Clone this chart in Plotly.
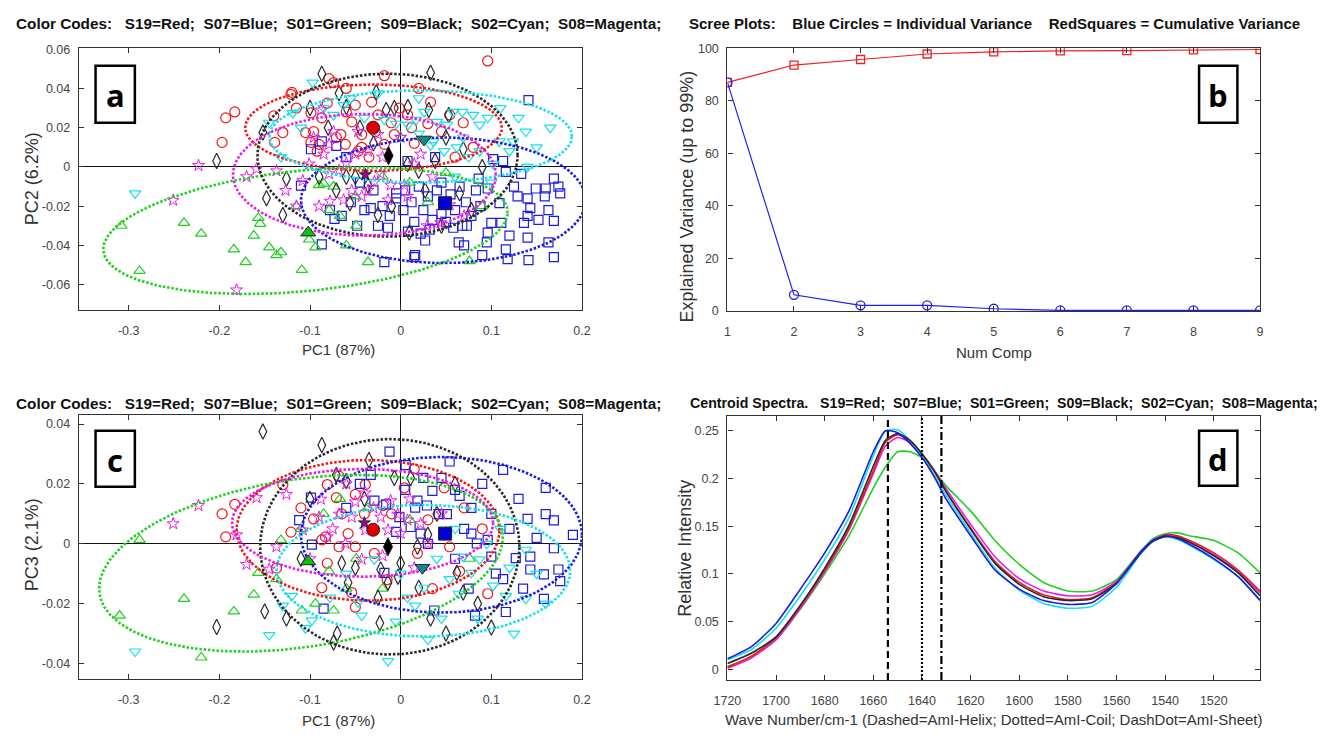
import numpy as np
import plotly.graph_objects as go

W, H = 1326, 739

# ---------------- data: panel a (PC1 vs PC2) ----------------
S19_A = [(-0.193,0.025),(-0.183,0.028),(-0.197,0.0125),(-0.139,0.0125),(-0.130,0.0175),(-0.120,0.038),
         (-0.099,0.0275),(-0.105,0.0175),(-0.096,0.018),(-0.090,0.0115),(-0.081,0.0325),(-0.079,0.045),
         (-0.087,0.025),(-0.099,0.0125),(0.096,0.054),(-0.018,0.0465),(-0.074,0.043),(-0.050,0.0315),
         (-0.032,0.033),(-0.054,0.023),(-0.066,0.0165),(-0.043,0.0165),(-0.025,0.0265),(-0.0015,0.030),
         (0.0076,0.0265),(-0.007,0.0165),(0.033,0.033),(0.054,0.0265),(0.069,0.0225),(-0.092,0.008),
         (-0.061,0.0115),(-0.043,0.010),(-0.018,0.0115),(-0.0105,0.0225),(-0.121,0.037),(-0.06,0.028),
         (-0.071,0.015),(0.012,0.020),(-0.047,0.008),(-0.028,0.018),(0.015,0.012),(0.045,0.018),
         (0.03,0.022),(-0.06,0.04),(0.08,0.01),(-0.115,0.03),(0.02,0.04),(-0.035,0.005),(0.06,0.005),
         (-0.14,0.026)]
S07_A = [(0.141,0.034),(0.169,-0.006),(0.174,-0.010),(0.160,-0.011),(0.149,-0.011),(0.129,-0.015),
         (0.140,-0.016),(0.159,-0.015),(0.176,-0.0135),(0.163,-0.022),(0.143,-0.021),(0.140,-0.025),
         (0.136,-0.0285),(0.152,-0.027),(0.169,-0.0275),(0.140,-0.036),(0.163,-0.0385),(0.169,-0.046),
         (0.141,-0.0475),(0.116,-0.042),(0.118,-0.047),(0.095,-0.0385),(0.096,-0.0335),(0.100,-0.0285),
         (0.111,-0.0285),(0.109,-0.0185),(0.096,-0.011),(0.086,-0.006),(0.116,-0.0025),(0.133,-0.0035),
         (0.102,0.004),(0.113,0.003),(0.064,-0.0385),(0.073,-0.030),(0.015,-0.046),(0.027,-0.0375),
         (-0.018,-0.0485),(0.005,-0.012),(0.012,-0.018),(0.020,-0.010),(0.025,-0.022),(0.030,-0.015),
         (0.035,-0.027),(0.040,-0.012),(0.045,-0.024),(0.050,-0.028),(0.055,-0.014),(0.060,-0.022),
         (0.065,-0.010),(0.068,-0.030),(0.072,-0.018),(0.078,-0.025),(0.083,-0.012),(0.088,-0.020),
         (0.015,-0.028),(0.008,-0.033),(0.022,-0.034),(0.032,-0.032),(0.045,-0.008),(0.058,-0.031),
         (0.003,-0.022),(-0.005,-0.016),(-0.012,-0.025),(-0.020,-0.020),(-0.025,-0.030),(-0.030,-0.012),
         (-0.040,-0.022),(-0.048,-0.030),(-0.055,-0.018),(-0.045,-0.008),(-0.065,-0.025),(-0.078,-0.022),
         (-0.087,-0.0395),(-0.110,-0.0095),(-0.073,-0.0265),(-0.099,0.009),(-0.087,0.013),(-0.071,0.0107),
         (-0.033,-0.021),(-0.014,-0.031),(-0.005,-0.0135),(0.016,-0.045),(0.0076,0.003),(0.038,0.005),
         (-0.060,0.005),(0.07,-0.04),(0.09,-0.045),(0.12,-0.035),(0.125,-0.01)]
S01_A = [(-0.308,-0.030),(-0.288,-0.053),(-0.239,-0.0285),(-0.220,-0.034),(-0.184,-0.042),(-0.171,-0.0485),
         (-0.162,-0.035),(-0.155,-0.029),(-0.157,-0.026),(-0.145,-0.041),(-0.137,-0.045),(-0.132,-0.0435),
         (-0.109,-0.0525),(-0.094,-0.041),(-0.101,-0.037),(-0.090,-0.0093),(-0.074,-0.010),(-0.079,-0.022),
         (-0.036,-0.0485),(-0.049,-0.030),(0.076,-0.048),(-0.067,-0.025),(-0.085,-0.0085),(-0.02,-0.005),
         (0.01,-0.008),(0.05,-0.003),(-0.05,-0.015),(0.03,-0.018),(0.09,-0.02),(-0.115,-0.02),(-0.06,-0.04)]
S09_A = [(-0.087,0.0475),(-0.152,0.0175),(-0.203,0.003),(-0.126,-0.006),(-0.148,-0.016),(-0.130,-0.0245),
         (0.033,0.048),(-0.068,0.0375),(-0.060,0.0305),(-0.016,0.029),(0.008,0.0305),(-0.027,0.038),
         (-0.060,-0.005),(-0.056,-0.0185),(-0.071,-0.012),(0.0076,0.0015),(0.020,-0.002),(0.038,0.003),
         (0.069,0.009),(0.065,-0.0135),(0.078,-0.022),(0.027,-0.012),(0.0095,-0.0335),(-0.025,-0.0245),
         (-0.036,-0.0095),(-0.05,-0.005),(0.031,0.029),(0.053,0.0265),(-0.007,0.030),(-0.03,0.012),
         (-0.045,0.02),(-0.08,0.02),(0.05,0.015),(-0.01,-0.02),(0.045,-0.03),(-0.09,-0.005),(0.09,0.0),
         (-0.1,0.03)]
S02_A = [(-0.293,-0.0135),(-0.119,0.0275),(-0.145,0.0225),(-0.132,0.005),(-0.097,0.043),(-0.074,0.0265),
         (0.138,0.018),(0.124,0.013),(0.109,0.013),(0.12,0.008),(0.096,0.025),(0.08,0.0265),(0.087,0.0215),
         (0.068,0.028),(0.058,0.028),(0.051,0.0215),(0.040,0.023),(0.026,0.028),(0.017,0.024),(0.008,0.0215),
         (-0.005,0.022),(-0.018,0.024),(-0.025,0.0375),(0.036,0.013),(0.069,0.015),(0.087,0.008),
         (0.075,0.005),(0.102,0.0015),(0.062,0.010),(0.048,0.008),(0.020,0.017),(0.033,0.011),(0.0,0.015),
         (-0.055,0.035),(-0.063,0.0315),(-0.085,0.03),(0.165,0.02),(0.15,0.01),(0.13,0.025),(0.11,0.03),
         (0.02,0.035),(-0.04,0.025),(0.06,-0.005),(0.1,-0.008),(0.14,0.0),(-0.11,0.02)]
S08_A = [(-0.223,0.0007),(-0.251,-0.017),(-0.181,-0.0627),(-0.17,-0.005),(-0.159,-0.001),(-0.137,-0.002),
         (-0.127,-0.012),(-0.108,-0.007),(-0.088,0.029),(-0.074,0.018),(-0.078,-0.0175),(-0.063,-0.0168),
         (-0.054,-0.012),(-0.043,-0.015),(-0.036,-0.012),(-0.029,-0.0075),(-0.022,-0.0035),(-0.014,-0.0168),
         (-0.079,-0.0035),(-0.068,-0.0018),(-0.101,0.0015),(-0.011,-0.0093),(0.004,-0.0093),(0.0076,-0.015),
         (0.029,-0.030),(0.044,-0.0285),(0.054,-0.0193),(-0.085,0.0065),(-0.05,0.0065),(-0.036,0.008),
         (-0.079,0.0115),(-0.047,0.018),(-0.025,0.0165),(0.0,0.015),(0.022,0.0065),(0.015,0.0015),
         (-0.096,0.015),(-0.06,0.002),(-0.02,0.005),(0.035,-0.005),(0.07,-0.025),(-0.115,-0.02),(-0.09,-0.02)]
CENTROIDS_A = {"S19": (-0.0304, 0.020), "S07": (0.049, -0.0185), "S01": (-0.102, -0.0335),
               "S09": (-0.0134, 0.0057), "S02": (0.0257, 0.014), "S08": (-0.039, -0.004)}
# ellipse: centre (cx, cy), conjugate half-axes u=(ux, uy), v=(vx, vy)
ELLIPSES_A = {"S19": (-0.030, 0.020, 0.1415, 0.0, 0.0, 0.022),
              "S07": (0.047, -0.017, 0.157, 0.0, 0.0, 0.032),
              "S01": (-0.105, -0.0325, 0.223, 0.009, 0.003, 0.031),
              "S09": (-0.0145, 0.006, 0.1435, 0.0, 0.0, 0.0415),
              "S02": (0.022, 0.0155, 0.167, 0.0, 0.0, 0.0235),
              "S08": (-0.040, -0.004, 0.145, 0.0, 0.0, 0.031)}

# ---------------- data: panel c (PC1 vs PC3) ----------------
S19_C = [(-0.197,0.010),(-0.193,0.0023),(-0.183,0.0132),(-0.137,-0.0081),(-0.121,0.0039),(-0.130,0.0198),
         (-0.087,-0.0147),(-0.081,0.0198),(-0.096,0.0083),(-0.083,0.0023),(-0.068,0.0226),(-0.087,0.0013),
         (-0.068,-0.001),(-0.05,-0.001),(-0.058,0.0034),(-0.039,0.0198),(-0.0196,0.0128),(0.004,0.0187),
         (0.048,0.0187),(0.054,-0.001),(0.0185,-0.0032),(0.096,-0.0167),(0.065,-0.0092),(-0.054,-0.0163),
         (-0.071,0.0154),(-0.081,-0.0065),(-0.05,-0.0212),(-0.05,0.0165),(-0.029,-0.0032),(-0.01,0.01),
         (0.03,0.008),(-0.04,0.01),(0.07,0.012),(0.09,0.005),(0.015,0.025),(-0.015,-0.012),(0.035,-0.015),
         (-0.11,0.012),(-0.065,0.01)]
S07_C = [(0.054,0.0275),(0.113,0.0247),(0.160,0.0187),(0.0055,0.0263),(0.035,0.0177),(0.065,0.016),
         (0.078,0.012),(0.140,0.0083),(0.160,0.0099),(0.169,0.0078),(0.169,-0.0015),(0.143,-0.0043),
         (0.143,-0.0086),(0.158,-0.0102),(0.174,-0.0086),(0.176,-0.0125),(0.127,-0.0048),(0.113,-0.0118),
         (0.100,-0.0043),(0.096,0.0013),(0.078,0.0034),(0.051,0.0099),(0.084,0.0001),(0.116,-0.0228),
         (0.082,-0.024),(0.158,-0.0184),(-0.029,0.0144),(0.0185,0.0144),(-0.0123,0.0308),(-0.033,0.023),
         (-0.016,0.0132),(-0.0014,0.0089),(0.016,0.0121),(0.029,0.0128),(0.042,0.0099),(0.011,0.0056),
         (0.022,0.0034),(0.06,0.018),(-0.099,0.0154),(-0.112,0.0079),(-0.098,-0.0003),(-0.085,-0.0217),
         (0.037,-0.0223),(-0.018,-0.0097),(0.13,0.015),(0.12,0.005),(0.09,0.02),(0.07,0.005),(0.06,-0.005),
         (0.03,0.0),(0.005,0.018),(-0.045,0.02),(-0.06,0.012),(0.045,0.022),(0.1,0.01),(0.15,0.002),
         (0.105,-0.01),(0.025,0.022),(-0.005,0.004),(0.075,-0.015),(0.135,-0.015),(0.19,0.003)]
S01_C = [(-0.288,0.0013),(-0.31,-0.024),(-0.239,-0.0184),(-0.22,-0.038),(-0.184,-0.0226),(-0.162,-0.017),
         (-0.157,-0.0097),(-0.137,-0.0118),(-0.132,0.0013),(-0.109,-0.0223),(-0.094,-0.020),(-0.074,-0.0223),
         (-0.079,-0.0092),(-0.036,0.012),(-0.049,-0.005),(0.076,-0.005),(-0.067,0.015),(-0.085,0.01),
         (-0.02,-0.015),(0.01,0.008),(0.05,0.004),(-0.06,-0.015),(-0.11,0.005)]
S09_C = [(-0.152,0.0375),(-0.087,0.033),(-0.203,-0.0278),(-0.15,-0.0226),(-0.126,-0.025),(-0.060,0.021),
         (-0.007,0.022),(0.011,0.022),(-0.065,-0.0065),(-0.05,-0.008),(-0.058,-0.013),(-0.025,-0.018),
         (0.033,-0.025),(-0.003,-0.011),(0.062,-0.0097),(0.069,-0.0163),(-0.070,-0.030),(-0.074,-0.033),
         (-0.023,-0.0265),(-0.071,0.023),(0.020,-0.0147),(0.0,-0.0065),(0.0185,-0.001),(-0.022,-0.0086),
         (-0.014,-0.013),(0.04,0.01),(0.085,-0.02),(-0.04,0.015),(0.06,0.02),(-0.1,0.015),(0.03,0.003),
         (-0.035,0.028),(0.1,-0.028),(0.05,-0.03),(-0.11,-0.005)]
S02_C = [(-0.293,-0.036),(-0.12,-0.0174),(-0.13,-0.0207),(-0.145,-0.0305),(-0.098,-0.0256),(-0.105,-0.0282),
         (-0.014,-0.0392),(0.064,-0.0167),(0.069,-0.0043),(0.078,-0.0097),(0.087,-0.0052),(0.102,-0.014),
         (0.116,-0.0174),(0.138,-0.002),(0.054,-0.0118),(0.026,-0.0147),(-0.029,-0.0052),(-0.047,-0.0196),
         (-0.043,-0.024),(-0.0054,-0.026),(0.016,-0.0207),(0.138,-0.0184),(-0.078,-0.018),(0.0076,-0.018),
         (0.12,-0.008),(0.15,-0.01),(0.095,0.0),(0.04,-0.005),(0.0,-0.01),(0.045,-0.025),(0.085,-0.025),
         (0.16,-0.02),(0.11,0.005),(0.03,-0.032),(-0.06,-0.01),(0.125,-0.03),(0.06,0.005)]
S08_C = [(-0.223,0.0128),(-0.251,0.0067),(-0.159,0.0154),(-0.126,0.0165),(-0.181,0.003),(-0.17,-0.0069),
         (-0.137,-0.001),(-0.108,0.0046),(-0.088,0.0149),(-0.081,0.0023),(-0.068,0.0099),(-0.054,0.0089),
         (-0.039,0.0046),(-0.022,0.0089),(-0.014,0.0046),(-0.0033,0.0099),(0.0,0.0034),(0.0076,0.0079),
         (-0.011,0.0144),(-0.039,0.017),(-0.145,-0.0085),(-0.043,-0.0052),(0.022,0.0067),(-0.061,0.0001),
         (-0.09,0.0089),(-0.03,0.012),(-0.05,0.014),(-0.02,-0.004),(0.01,0.015),(-0.075,0.005),(0.03,0.0),
         (-0.06,0.02),(-0.1,-0.005),(0.045,0.01),(0.015,-0.008)]
CENTROIDS_C = {"S19": (-0.0304, 0.0047), "S07": (0.049, 0.0034), "S01": (-0.102, -0.0059),
               "S09": (-0.014, -0.001), "S02": (0.024, -0.008), "S08": (-0.040, 0.007)}
ELLIPSES_C = {"S19": (-0.036, 0.0045, 0.145, 0.0, 0.0, 0.0235),
              "S07": (0.045, 0.003, 0.155, 0.0, 0.0, 0.026),
              "S01": (-0.110, -0.0065, 0.218, 0.014, -0.045, 0.026),
              "S09": (-0.012, -0.001, 0.143, 0.0, 0.0, 0.036),
              "S02": (0.025, -0.009, 0.162, 0.0, 0.0, 0.022),
              "S08": (-0.042, 0.007, 0.144, 0.0, 0.0, 0.018)}

# ---------------- data: panel b (scree) ----------------
NUM_COMP = [1, 2, 3, 4, 5, 6, 7, 8, 9]
INDIV_VAR = [87.0, 6.2, 2.2, 2.2, 0.9, 0.3, 0.3, 0.3, 0.3]
CUM_VAR = [87.0, 93.6, 95.7, 97.8, 98.6, 99.0, 99.1, 99.4, 99.5]

# ---------------- data: panel d (centroid spectra) ----------------
WAVENUMBER = [1720,1710,1700,1690,1680,1670,1660,1655,1650,1645,1640,1635,1630,1620,1610,1600,
              1590,1580,1570,1560,1550,1545,1540,1535,1530,1520,1510,1501]
SPEC = {
    "S09": [0.006,0.017,0.034,0.067,0.106,0.151,0.213,0.240,0.247,0.240,0.226,0.208,0.186,0.147,0.111,0.089,
            0.076,0.072,0.074,0.090,0.122,0.134,0.139,0.138,0.133,0.119,0.101,0.077],
    "S07": [0.011,0.024,0.048,0.084,0.122,0.166,0.228,0.250,0.248,0.237,0.222,0.202,0.178,0.140,0.104,0.084,
            0.072,0.068,0.070,0.090,0.123,0.135,0.140,0.137,0.131,0.116,0.097,0.072],
    "S02": [0.010,0.021,0.043,0.077,0.115,0.159,0.224,0.250,0.251,0.240,0.224,0.204,0.182,0.143,0.106,0.083,
            0.069,0.064,0.066,0.086,0.121,0.134,0.139,0.136,0.130,0.115,0.097,0.073],
    "S19": [0.002,0.014,0.033,0.066,0.104,0.148,0.208,0.238,0.246,0.240,0.226,0.208,0.186,0.148,0.113,0.091,
            0.078,0.073,0.075,0.091,0.123,0.135,0.141,0.140,0.135,0.122,0.104,0.082],
    "S08": [0.001,0.012,0.031,0.064,0.102,0.146,0.205,0.234,0.243,0.238,0.225,0.209,0.189,0.152,0.118,0.095,
            0.082,0.077,0.078,0.092,0.123,0.135,0.140,0.139,0.134,0.120,0.102,0.080],
    "S01": [0.003,0.013,0.031,0.063,0.100,0.140,0.190,0.212,0.228,0.228,0.222,0.208,0.192,0.166,0.135,0.110,
            0.091,0.082,0.082,0.094,0.124,0.137,0.142,0.143,0.140,0.135,0.122,0.101],
}
BAND_HELIX, BAND_COIL, BAND_SHEET = 1654, 1640, 1632

GROUPS = ["S19", "S07", "S01", "S09", "S02", "S08"]
COLORS = {"S19": "#f01818", "S07": "#1c1ce0", "S01": "#22d022", "S09": "#2a2a2a",
          "S02": "#18e0ea", "S08": "#e81ce8"}
CENTROID_COLORS = {"S19": "#e00000", "S07": "#0000d8", "S01": "#10c010", "S09": "#000000",
                   "S02": "#0c8c8c", "S08": "#a000a0"}
OPEN_SYM = {"S19": "circle-open", "S07": "square-open", "S01": "triangle-up-open",
            "S09": "diamond-tall-open", "S02": "triangle-down-open", "S08": "star-open"}
FILL_SYM = {"S19": "circle", "S07": "square", "S01": "triangle-up",
            "S09": "diamond-tall", "S02": "triangle-down", "S08": "star"}
OPEN_SIZE = {"S19": 10, "S07": 9, "S01": 10, "S09": 11, "S02": 10, "S08": 9}

TITLE_TOP = "Color Codes:\u00a0\u00a0 S19=Red;\u00a0 S07=Blue;\u00a0 S01=Green;\u00a0 S09=Black;\u00a0 S02=Cyan;\u00a0 S08=Magenta;"
TITLE_B = "Scree Plots:\u00a0\u00a0\u00a0 Blue Circles = Individual Variance\u00a0\u00a0\u00a0 RedSquares = Cumulative Variance"
TITLE_D = "Centroid Spectra.\u00a0\u00a0 S19=Red;\u00a0 S07=Blue;\u00a0 S01=Green;\u00a0 S09=Black;\u00a0 S02=Cyan;\u00a0 S08=Magenta;"

SANS = "Liberation Sans, Arial, sans-serif"

fig = go.Figure()

def ellipse_xy(p):
    cx, cy, ux, uy, vx, vy = p
    t = np.linspace(0, 2 * np.pi, 241)
    return cx + ux * np.cos(t) + vx * np.sin(t), cy + uy * np.cos(t) + vy * np.sin(t)

def add_pca(points, centroids, ellipses, xa, ya):
    for g in GROUPS:
        pts = points[g]
        fig.add_trace(go.Scatter(x=[p[0] for p in pts], y=[p[1] for p in pts], mode="markers",
                                 xaxis=xa, yaxis=ya, showlegend=False,
                                 marker=dict(symbol=OPEN_SYM[g], size=OPEN_SIZE[g], color=COLORS[g],
                                             line=dict(width=1.2 if g != "S08" else 1.0, color=COLORS[g]))))
    for g in GROUPS:
        ex, ey = ellipse_xy(ellipses[g])
        fig.add_trace(go.Scatter(x=ex, y=ey, mode="lines", xaxis=xa, yaxis=ya, showlegend=False,
                                 line=dict(color=COLORS[g], width=2.6, dash="2.5px,1.8px")))
    for g in GROUPS:
        c = centroids[g]
        fig.add_trace(go.Scatter(x=[c[0]], y=[c[1]], mode="markers", xaxis=xa, yaxis=ya, showlegend=False,
                                 marker=dict(symbol=FILL_SYM[g], size=13 if g != "S08" else 9,
                                             color=CENTROID_COLORS[g], line=dict(width=1, color="#222"))))

add_pca({"S19": S19_A, "S07": S07_A, "S01": S01_A, "S09": S09_A, "S02": S02_A, "S08": S08_A},
        CENTROIDS_A, ELLIPSES_A, "x", "y")
add_pca({"S19": S19_C, "S07": S07_C, "S01": S01_C, "S09": S09_C, "S02": S02_C, "S08": S08_C},
        CENTROIDS_C, ELLIPSES_C, "x3", "y3")

# scree
fig.add_trace(go.Scatter(x=NUM_COMP, y=CUM_VAR, mode="lines+markers", xaxis="x2", yaxis="y2", showlegend=False,
                         line=dict(color="#f02020", width=1.2),
                         marker=dict(symbol="square-open", size=8, color="#f02020", line=dict(width=1.3))))
fig.add_trace(go.Scatter(x=NUM_COMP, y=INDIV_VAR, mode="lines+markers", xaxis="x2", yaxis="y2", showlegend=False,
                         line=dict(color="#2020e8", width=1.2),
                         marker=dict(symbol="circle-open", size=9, color="#2020e8", line=dict(width=1.3))))

# spectra
for g in ["S01", "S08", "S19", "S02", "S09", "S07"]:
    fig.add_trace(go.Scatter(x=WAVENUMBER, y=SPEC[g], mode="lines", xaxis="x4", yaxis="y4", showlegend=False,
                             line=dict(color=COLORS[g], width=1.6, shape="spline", smoothing=0.6)))
for wn, dash in [(BAND_HELIX, "7px,4px"), (BAND_COIL, "2px,2px"), (BAND_SHEET, "8px,3px,2px,3px")]:
    fig.add_shape(type="line", xref="x4", yref="y4 domain", x0=wn, x1=wn, y0=0, y1=1,
                  line=dict(color="black", width=2.2, dash=dash))

def xdom(p0, p1):
    return [p0 / W, p1 / W]

def ydom(top, bottom):
    return [1 - bottom / H, 1 - top / H]

common = dict(showline=True, linecolor="#333", linewidth=1.2, mirror="ticks", ticks="inside", ticklen=5,
              tickwidth=1, tickcolor="#333", showgrid=False, zeroline=False,
              tickfont=dict(family=SANS, size=12.5, color="#444"))

def ax(**kw):
    d = dict(common)
    d.update(kw)
    return d

PC1_TICKS = [-0.3, -0.2, -0.1, 0, 0.1, 0.2]
PC1_TEXT = ["-0.3", "-0.2", "-0.1", "0", "0.1", "0.2"]
PC2_TICKS = [-0.06, -0.04, -0.02, 0, 0.02, 0.04, 0.06]
PC2_TEXT = ["-0.06", "-0.04", "-0.02", "0", "0.02", "0.04", "0.06"]
PC3_TICKS = [-0.04, -0.02, 0, 0.02, 0.04]
PC3_TEXT = ["-0.04", "-0.02", "0", "0.02", "0.04"]
VAR_TICKS = [0, 20, 40, 60, 80, 100]
INT_TICKS = [0, 0.05, 0.1, 0.15, 0.2, 0.25]
INT_TEXT = ["0", "0.05", "0.1", "0.15", "0.2", "0.25"]
WN_TICKS = [1720, 1700, 1680, 1660, 1640, 1620, 1600, 1580, 1560, 1540, 1520]

ZL = dict(zeroline=True, zerolinecolor="#111", zerolinewidth=1.4)
fig.update_layout(
    xaxis=ax(**ZL, domain=xdom(66, 578), range=[-0.355, 0.2], anchor="y",
             tickvals=PC1_TICKS, ticktext=PC1_TEXT, ticklabelstandoff=9),
    yaxis=ax(**ZL, domain=ydom(42, 309), range=[-0.073, 0.0605], anchor="x",
             tickvals=PC2_TICKS, ticktext=PC2_TEXT, ticklabelstandoff=5),
    xaxis2=ax(domain=xdom(726, 1268), range=[1, 9], anchor="y2",
              tickvals=NUM_COMP, ticklabelstandoff=9),
    yaxis2=ax(domain=ydom(42, 310), range=[0, 100], anchor="x2",
              tickvals=VAR_TICKS, ticklabelstandoff=5),
    xaxis3=ax(**ZL, domain=xdom(66, 578), range=[-0.355, 0.2], anchor="y3",
              tickvals=PC1_TICKS, ticktext=PC1_TEXT, ticklabelstandoff=9),
    yaxis3=ax(**ZL, domain=ydom(416, 685), range=[-0.0452, 0.043], anchor="x3",
              tickvals=PC3_TICKS, ticktext=PC3_TEXT, ticklabelstandoff=5),
    xaxis4=ax(domain=xdom(726, 1268), range=[1720, 1501], anchor="y4",
              tickvals=WN_TICKS, ticklabelstandoff=9),
    yaxis4=ax(domain=ydom(417, 686), range=[-0.0113, 0.2654], anchor="x4",
              tickvals=INT_TICKS, ticktext=INT_TEXT, ticklabelstandoff=5),
)

def ann(text, px, py, size=15, family=SANS, color="#333", angle=0, bold=False):
    fig.add_annotation(text=f"<b>{text}</b>" if bold else text, x=px / W, y=1 - py / H,
                       xref="paper", yref="paper", showarrow=False, textangle=angle,
                       xanchor="center", yanchor="middle",
                       font=dict(family=family, size=size, color=color))

ann(TITLE_TOP, 330, 17, size=15.3, color="#111", bold=True)
ann(TITLE_B, 998, 17, size=15, color="#111", bold=True)
ann(TITLE_TOP, 330, 404, size=15.3, color="#111", bold=True)
ann(TITLE_D, 1007, 404, size=14.2, color="#111", bold=True)

ann("PC2 (6.2%)", 18, 175, size=18, angle=-90)
ann("PC1 (87%)", 330, 349)
ann("PC3 (2.1%)", 18, 548, size=18, angle=-90)
ann("PC1 (87%)", 330, 727)
ann("Explained Variance (up to 99%)", 685, 193, size=18, angle=-90)
ann("Num Comp", 997, 352)
ann("Relative Intensity", 682, 552, size=18, angle=-90)
ann("Wave Number/cm-1 (Dashed=AmI-Helix; Dotted=AmI-Coil; DashDot=AmI-Sheet)", 997, 726)

# panel letter boxes
for letter, (x0, y0, x1, y1) in {"a": (83, 60, 123, 118), "b": (1206, 60, 1245, 118),
                                 "c": (83, 432, 123, 489), "d": (1206, 432, 1245, 488)}.items():
    fig.add_shape(type="rect", xref="paper", yref="paper", x0=x0 / W, x1=x1 / W,
                  y0=1 - y1 / H, y1=1 - y0 / H, line=dict(color="black", width=2.5), fillcolor="white",
                  layer="above")
    fig.add_annotation(text=f"<b>{letter}</b>", x=(x0 + x1) / 2 / W, y=1 - ((y0 + y1) / 2 + 1) / H,
                       xref="paper", yref="paper", showarrow=False, xanchor="center", yanchor="middle",
                       font=dict(family="Open Sans, DejaVu Sans, sans-serif", size=31, color="black"))

fig.update_layout(width=W, height=H, autosize=False, margin=dict(l=0, r=0, t=0, b=0),
                  paper_bgcolor="white", plot_bgcolor="white", showlegend=False)

fig.write_html("out.html")
